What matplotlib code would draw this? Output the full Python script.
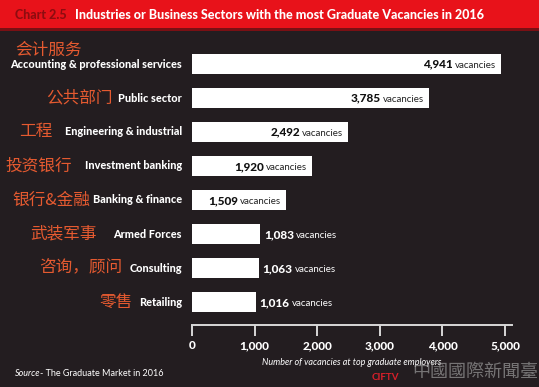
import matplotlib.pyplot as plt
import matplotlib.patches as patches

# data
sectors_en = ['Accounting & professional services', 'Public sector', 'Engineering & industrial',
              'Investment banking', 'Banking & finance', 'Armed Forces', 'Consulting', 'Retailing']
sectors_zh = ['会计服务', '公共部门', '工程', '投资银行', '银行&金融', '武装军事', '咨询，顾问', '零售']
vacancies = [4941, 3785, 2492, 1920, 1509, 1083, 1063, 1016]
xticks = [0, 1000, 2000, 3000, 4000, 5000]
xtick_labels = ['0', '1,000', '2,000', '3,000', '4,000', '5,000']

# right edge (px) of each chinese label, first one sits above its row
zh_right = [82, 113, 52, 72, 90, 97, 122, 133]

BG = '#231d20'
ZH_COL = '#e55a30'
W, H = 539, 387

plt.rcParams['font.family'] = ['Lato', 'DejaVu Sans']
fig = plt.figure(figsize=(W / 100, H / 100), dpi=100, facecolor=BG)

# title banner
fig.patches.append(patches.Rectangle((0, 1 - 28 / H), 1, 28 / H, transform=fig.transFigure,
                                     facecolor='#e8121a', edgecolor='none', zorder=0))
fig.patches.append(patches.Rectangle((0, 1 - 31 / H), 1, 3 / H, transform=fig.transFigure,
                                     facecolor='#7a1014', edgecolor='none', zorder=0))
fig.text(15 / W, 1 - 15 / H, 'Chart 2.5', color='#8e0c10', fontsize=9, fontweight='black', va='center')
fig.text(75 / W, 1 - 15 / H, 'Industries or Business Sectors with the most Graduate Vacancies in 2016',
         color='white', fontsize=9, fontweight='black', va='center')

ax = fig.add_axes([192 / W, (H - 325) / H, 320 / W, 285 / H])
ax.set_facecolor(BG)
ypos = list(range(len(vacancies)))
ax.barh(ypos, vacancies, height=0.6, color='white', edgecolor='none')
ax.set_xlim(0, 5112)
ax.set_ylim(7.68, -0.7)

for s in ['top', 'right', 'left']:
    ax.spines[s].set_visible(False)
ax.spines['bottom'].set_color('#d8d8d8')
ax.spines['bottom'].set_linewidth(1.4)
ax.set_yticks([])
ax.set_xticks(xticks)
ax.set_xticklabels(xtick_labels)
ax.tick_params(axis='x', direction='out', length=8, width=1.4, color='#d8d8d8', pad=3,
               labelcolor='white', labelsize=8.5)
for t in ax.get_xticklabels():
    t.set_fontweight('black')
ax.set_xlabel('Number of vacancies at top graduate employers', color='white', fontsize=6.5,
              style='italic', labelpad=5)

fig.canvas.draw()
rend = fig.canvas.get_renderer()

# number and "vacancies" share a baseline
for i, v in enumerate(vacancies):
    if v > 1500:
        t = ax.annotate('vacancies', (v, i), xytext=(-5, -4), textcoords='offset pixels',
                        ha='right', va='baseline', fontsize=7, color='#222222')
        w = t.get_window_extent(rend).width
        ax.annotate(f'{v:,}', (v, i), xytext=(-5 - w - 2, -4), textcoords='offset pixels',
                    ha='right', va='baseline', fontsize=8.5, fontweight='black', color='#111111')
    else:
        t = ax.annotate(f'{v:,}', (v, i), xytext=(4, -4), textcoords='offset pixels',
                        ha='left', va='baseline', fontsize=8.5, fontweight='black', color='white')
        w = t.get_window_extent(rend).width
        ax.annotate('vacancies', (v, i), xytext=(4 + w + 2, -4), textcoords='offset pixels',
                    ha='left', va='baseline', fontsize=7, color='white')

# category labels
for i, (en, zh) in enumerate(zip(sectors_en, sectors_zh)):
    yc = 64 + 34 * i
    fig.text(182 / W, 1 - yc / H, en, color='white', fontsize=7.8, fontweight='black',
             ha='right', va='center')
    zy = 50 if i == 0 else yc
    fig.text(zh_right[i] / W, 1 - zy / H, zh, color=ZH_COL, fontsize=12, ha='right', va='center',
             fontweight='light', family=['Noto Sans CJK SC', 'DejaVu Sans'])

fig.text(15 / W, 1 - 373 / H, 'Source', color='white', fontsize=6.5, style='italic', va='center')
fig.text(40 / W, 1 - 373 / H, '- The Graduate Market in 2016', color='white', fontsize=6.5, va='center')

# watermark
fig.text(372 / W, 1 - 378 / H, 'CIFTV', color='#d8202a', fontsize=7, fontweight='bold', va='center')
fig.text(412 / W, 1 - 372 / H, '中國國際新聞臺', color='#9a9a9a', fontsize=13, va='center',
         family=['Noto Sans CJK TC', 'DejaVu Sans'], alpha=0.7)

fig.savefig('out.png', dpi=100, facecolor=BG)
